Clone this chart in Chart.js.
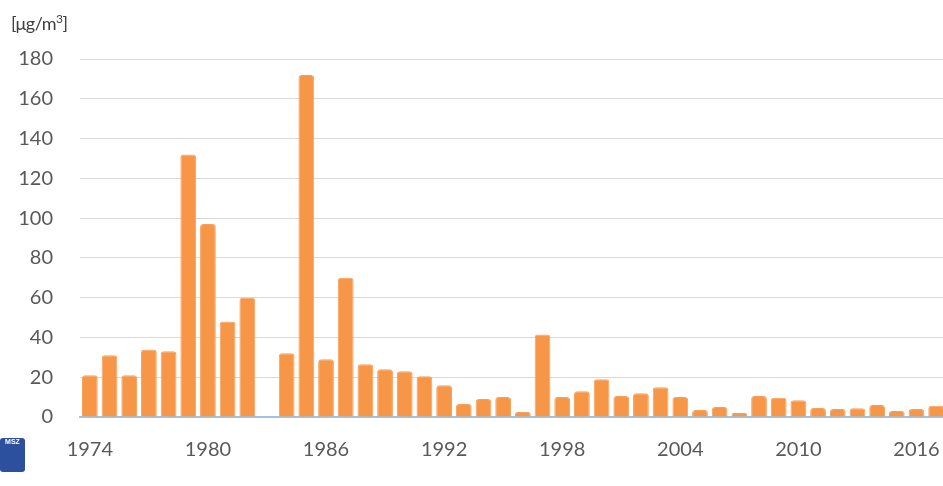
<!DOCTYPE html>
<html>
<head>
<meta charset="utf-8">
<script src="https://cdn.jsdelivr.net/npm/chart.js@4"></script>
<style>
  html, body { margin: 0; padding: 0; background: #fff; overflow: hidden; }
  #wrap { position: relative; width: 943px; height: 486px; overflow: hidden; }
  #unit { position: absolute; left: 11px; top: 11px; font: 18px Lato, "Open Sans", sans-serif; color: #404040; letter-spacing: -0.5px; }
  #unit sup { font-size: 12px; }
  #logo { position: absolute; left: 0; top: 438px; width: 25px; height: 34px; background: #2c4f9e; border-radius: 3px; color: #fff; font: bold 7px sans-serif; text-align: center; }
</style>
</head>
<body>
<div id="wrap">
  <canvas id="chart" width="946" height="486"></canvas>
  <div id="unit">[μg/m<sup>3</sup>]</div>
  <div id="logo">MSZ</div>
</div>
<script>
const years = [];
for (let y = 1974; y <= 2017; y++) years.push(String(y));

// annual values, μg/m³ (1983 missing)
const values = [
  21, 31, 21, 34, 33, 132, 97, 48, 60, null,
  32, 172, 29, 70, 26.5, 24, 23, 20.5, 16, 6.5,
  9, 10, 2.5, 41.5, 10, 13, 19, 10.5, 12, 15,
  10, 3.5, 5, 2, 10.5, 9.7, 8.4, 4.5, 4, 4.4,
  6, 3, 4, 5.7
];

const yTicks = [0, 20, 40, 60, 80, 100, 120, 140, 160, 180];

const font = { family: 'Lato, "Open Sans", sans-serif', size: 20 };

new Chart(document.getElementById('chart'), {
  type: 'bar',
  data: {
    labels: years,
    datasets: [{
      data: values,
      backgroundColor: '#F79646',
      borderColor: '#F8A05A',
      borderWidth: 1,
      borderRadius: 3,
      borderSkipped: 'bottom',
      barPercentage: 0.8,
      categoryPercentage: 1
    }]
  },
  options: {
    responsive: false,
    animation: false,
    layout: { padding: { top: 59, right: 0, left: 0, bottom: 0 } },
    plugins: { legend: { display: false }, tooltip: { enabled: false } },
    scales: {
      x: {
        afterFit: axis => { axis.height = 69; axis.paddingRight = 0; },
        grid: { display: false },
        border: { display: true, color: '#9DC3E6', width: 2 },
        ticks: {
          color: '#595959', font: font, autoSkip: false, maxRotation: 0, padding: 13,
          callback: (v, i) => i % 6 === 0 ? years[i] : ''
        }
      },
      y: {
        min: 0, max: 180,
        afterFit: axis => { axis.width = 80; },
        afterBuildTicks: axis => { axis.ticks = yTicks.map(v => ({ value: v })); },
        grid: { color: '#D9D9D9', drawTicks: false },
        border: { display: false },
        ticks: { color: '#595959', font: font, padding: 27 }
      }
    }
  }
});
</script>
</body>
</html>
